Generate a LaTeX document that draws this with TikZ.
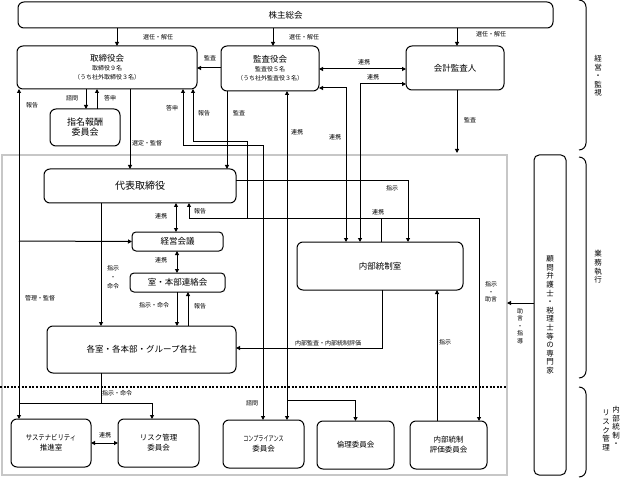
\documentclass[tikz,border=0pt]{standalone}
\usepackage{fontspec}
\usepackage{graphicx}
\setmainfont{Noto Sans CJK JP}
\usetikzlibrary{arrows.meta}
\tikzset{
  bx/.style={draw, line width=1pt, rounded corners=6pt, align=center, inner sep=0pt, outer sep=0pt},
  fmain/.style={font=\fontsize{8.5}{10}\selectfont},
  fsub/.style={font=\fontsize{7.5}{10}\selectfont},
  ln/.style={line width=1pt},
  arr/.style={ln, -{Triangle[length=4pt,width=4pt]}},
  darr/.style={ln, {Triangle[length=4pt,width=4pt]}-{Triangle[length=4pt,width=4pt]}},
  lbl/.style={font=\fontsize{6}{7.5}\selectfont, inner sep=0pt, align=center},
  brace/.style={line width=1pt},
}
\begin{document}
\begin{tikzpicture}[x=1pt,y=-1pt]
\useasboundingbox (0,0) rectangle (620,478);
% background region
\draw[black!22, line width=1.5pt] (2,155) rectangle (507,475);
\draw[line width=2pt, dash pattern=on 2pt off 1.6pt] (0,387) -- (507,387);

% nodes
\node[bx, fmain, minimum width=535pt, minimum height=26pt] (kabu) at (285.5,15) {株主総会};
\node[bx, font=\fontsize{6}{9}\selectfont, minimum width=180pt, minimum height=43pt] (tori) at (107,67.5) {{\fontsize{8.5}{9}\selectfont 取締役会}\\取締役９名\\（うち社外取締役３名）};
\node[bx, font=\fontsize{6}{9}\selectfont, minimum width=98pt, minimum height=45pt] (kansa) at (270,68.5) {{\fontsize{8.5}{9}\selectfont 監査役会}\\監査役５名\\（うち社外監査役３名）};
\node[bx, fmain, minimum width=98pt, minimum height=44pt] (kaikei) at (455,68) {会計監査人};
\node[bx, font=\fontsize{9}{10}\selectfont, minimum width=70pt, minimum height=37pt] (shimei) at (85,127.5) {指名報酬\\委員会};
\node[bx, font=\fontsize{10}{11}\selectfont, minimum width=192pt, minimum height=34pt] (daihyo) at (140,186) {代表取締役};
\node[bx, fmain, rounded corners=4pt, minimum width=91pt, minimum height=19pt] (keiei) at (177.5,241.5) {経営会議};
\node[bx, fmain, rounded corners=4pt, minimum width=95pt, minimum height=19pt] (renraku) at (177.5,282.5) {室・本部連絡会};
\node[bx, fmain, minimum width=189pt, minimum height=47pt] (kaku) at (141.5,349.5) {各室・各本部・グループ各社};
\node[bx, fmain, minimum width=166pt, minimum height=48pt] (naibu) at (380,266) {内部統制室};
\node[bx, fsub, minimum width=80pt, minimum height=48pt] (sust) at (51,443) {\scalebox{0.85}[1]{サステナビリティ}\\推進室};
\node[bx, fsub, minimum width=81pt, minimum height=48pt] (risk) at (158.5,443) {リスク管理\\委員会};
\node[bx, fsub, minimum width=81pt, minimum height=48pt] (compl) at (263.5,444) {\scalebox{0.68}[1]{コンプライアンス}\\委員会};
\node[bx, fsub, minimum width=77pt, minimum height=48pt] (rinri) at (355.5,445) {倫理委員会};
\node[bx, fsub, minimum width=77pt, minimum height=48pt] (hyoka) at (448.5,445) {内部統制\\評価委員会};
\node[bx, font=\fontsize{7.5}{8.6}\selectfont, rounded corners=5pt, minimum width=32pt, minimum height=320pt] (komon) at (550,315) {顧\\問\\弁\\護\\士\\・\\税\\理\\士\\等\\の\\専\\門\\家};

% coordinates for free ends
\coordinate (gtop) at (457,153);
\coordinate (gright) at (507,303);

% 株主総会 -> 
\draw[arr] (kabu.south -| 117,0) -- (tori.north -| 117,0);
\draw[arr] (kabu.south -| 273,0) -- (kansa.north -| 273,0);
\draw[arr] (kabu.south -| 457,0) -- (kaikei.north -| 457,0);
\node[lbl] (l1) at (158,37) {選任・解任};
\node[lbl] (l2) at (304,37) {選任・解任};
\node[lbl] (l3) at (491,34) {選任・解任};

% 監査役会 -> 取締役会
\draw[arr] (kansa.west |- 0,68) -- (tori.east |- 0,68);
\node[lbl] (l4) at (210,58) {監査};
% 監査役会 <-> 会計監査人
\draw[darr] (kansa.east |- 0,69) -- (kaikei.west |- 0,69);
\node[lbl] (l5) at (364,62) {連携};
% 監査役会 <-> 内部統制室
\draw[darr] (kansa.east |- 0,88) -| (naibu.north -| 346,0);
\node[lbl] (l6) at (335,137) {連携};
% 会計監査人 <-> 内部統制室
\draw[darr] (kaikei.west |- 0,84) -| (naibu.north -| 360,0);
\node[lbl] (l7) at (373,77) {連携};
% 会計監査人 監査
\draw[arr] (kaikei.south -| gtop) -- (gtop);
\node[lbl] (l8) at (470,120) {監査};

% 取締役会 <-> 指名報酬委員会
\draw[arr] (tori.south -| 86,0) -- (shimei.north -| 86,0);
\draw[arr] (shimei.north -| 97,0) -- (tori.south -| 97,0);
\node[lbl] (l9) at (72,98) {諮問};
\node[lbl] (l10) at (110,98) {答申};

% 取締役会 -> 代表取締役
\draw[arr] (tori.south -| 130,0) -- (daihyo.north -| 130,0);
\node[lbl] (l11) at (147,143) {選定・監督};
% 監査役会 -> 代表取締役
\draw[arr] (kansa.south -| 227,0) -- (daihyo.north -| 227,0);
\node[lbl] (l12) at (239,113) {監査};

% 取締役会 <-> コンプライアンス委員会
\draw[darr] (tori.south -| 183,0) -- (183,146) -- (263,146) -- (compl.north -| 263,0);
\node[lbl] (l13) at (172,108) {答申};
\node[lbl] (l14) at (252,403) {諮問};
% 監査役会 <-> コンプライアンス委員会, 倫理委員会
\draw[darr] (kansa.south -| 287,0) -- (compl.north -| 287,0);
\draw[arr] (287,400) -| (rinri.north);
\node[lbl] (l15) at (297,132) {連携};

% 内部統制室 network (報告・連携)
\draw[ln] (naibu.north -| 381,0) -- (381,218);
\draw[ln] (189,218) -- (479,218);
\draw[arr] (189,218) -- (daihyo.south -| 189,0);
\draw[arr] (247,218) -- (247,142) -- (193,142) -- (tori.south -| 193,0);
\draw[arr] (479,218) -- (hyoka.north -| 479,0);
\node[lbl] (l16) at (200,211) {報告};
\node[lbl] (l17) at (204,113) {報告};
\node[lbl] (l18) at (378,212) {連携};
\node[lbl, font=\fontsize{6}{7.5}\selectfont] (l19) at (491,292) {指示\\・\\助言};

% 代表取締役 -> 内部統制室 指示
\draw[arr] (daihyo.east |- 0,181) -| (naibu.north -| 408,0);
\node[lbl] (l20) at (392,188) {指示};

% 代表取締役 <-> 経営会議 <-> 室・本部連絡会
\draw[darr] (daihyo.south -| 176,0) -- (keiei.north -| 176,0);
\node[lbl] (l21) at (161,216) {連携};
\draw[darr] (keiei.south -| 177,0) -- (renraku.north -| 177,0);
\node[lbl] (l22) at (161,260) {連携};

% 代表取締役 -> 各室
\draw[arr] (daihyo.south -| 101,0) -- (kaku.north -| 101,0);
\node[lbl, font=\fontsize{6}{9}\selectfont] (l23) at (113,277) {指示\\・\\命令};
% 室・本部連絡会 <-> 各室
\draw[arr] (renraku.south -| 177,0) -- (kaku.north -| 177,0);
\draw[arr] (kaku.north -| 188,0) -- (renraku.south -| 188,0);
\node[lbl] (l24) at (154,305) {指示・命令};
\node[lbl] (l25) at (200,306) {報告};

% left line 取締役会 <-> サステナビリティ
\draw[darr] (tori.south -| 19,0) -- (sust.north -| 19,0);
\draw[arr] (19,241) -- (keiei.west);
\node[lbl] (l26) at (32,105) {報告};
\node[lbl] (l27) at (40,298) {管理・監督};

% 内部統制室 -> 各室
\draw[arr] (naibu.south -| 382,0) |- (kaku.east |- 0,348);
\node[lbl] (l28) at (328,343) {内部監査・内部統制評価};
% 評価委員会 -> 内部統制室
\draw[arr] (hyoka.north -| 437,0) -- (naibu.south -| 437,0);
\node[lbl] (l29) at (445,342) {指示};

% 各室 -> リスク管理
\draw[ln] (kaku.south -| 101,0) -- (101,403);
\draw[arr] (19,403) -| (risk.north -| 152,0);
\node[lbl] (l30) at (117,393) {指示・命令};
% サステナビリティ <-> リスク管理
\draw[darr] (sust.east) -- (risk.west);
\node[lbl] (l31) at (105,435) {連携};

% 顧問 -> 
\draw[arr] (komon.west |- gright) -- (gright);
\node[lbl, font=\fontsize{6}{7.4}\selectfont] (l32) at (520,326) {助\\言\\・\\指\\導};

% braces
\draw[brace] (579,0) to[out=0,in=90] (586,7) -- (586,143) to[out=-90,in=0] (579,150);
\draw[brace] (579,157) to[out=0,in=90] (586,164) -- (586,371) to[out=-90,in=0] (579,378);
\draw[brace] (579,387) to[out=0,in=90] (586,394) -- (586,470) to[out=-90,in=0] (579,477);
\node[lbl, font=\fontsize{7.5}{8.5}\selectfont] (b1) at (598,76) {経\\営\\・\\監\\視};
\node[lbl, font=\fontsize{7.5}{8.7}\selectfont] (b2) at (598,267) {業\\務\\執\\行};
\node[lbl, font=\fontsize{7.5}{8.6}\selectfont, anchor=north] (b3) at (616,406) {内\\部\\統\\制\\・};
\node[lbl, font=\fontsize{7.5}{8.6}\selectfont, anchor=north] (b4) at (606,410) {リ\\ス\\ク\\管\\理};
\end{tikzpicture}
\end{document}
